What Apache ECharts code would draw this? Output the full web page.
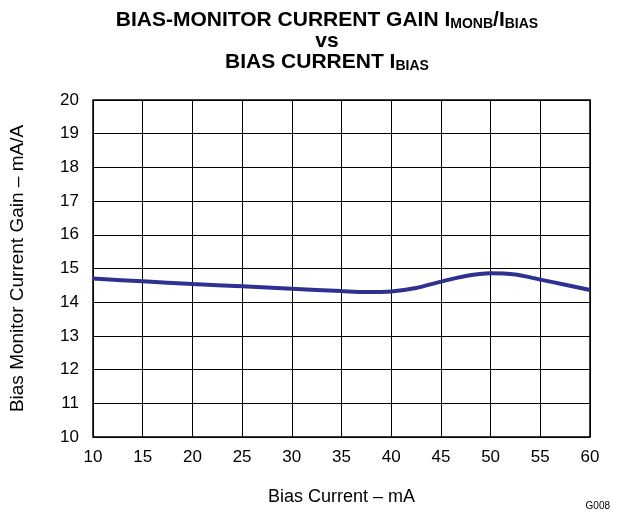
<!DOCTYPE html>
<html>
<head>
<meta charset="utf-8">
<script src="https://cdn.jsdelivr.net/npm/echarts@6/dist/echarts.min.js"></script>
<style>html,body{margin:0;padding:0;background:#fff;}#c{width:629px;height:512px;}</style>
</head>
<body>
<div id="c"></div>
<script>
var biasCurrent = [10, 15, 20, 25, 30, 35, 37.5, 40, 42.5, 45, 47.5, 50, 52.5, 55, 57.5, 60];
var gain = [14.70, 14.62, 14.54, 14.47, 14.40, 14.33, 14.30, 14.32, 14.42, 14.61, 14.78, 14.86, 14.82, 14.67, 14.52, 14.36];
var xTicks = [10, 15, 20, 25, 30, 35, 40, 45, 50, 55, 60];
var yTicks = [10, 11, 12, 13, 14, 15, 16, 17, 18, 19, 20];

var FONT = 'Liberation Sans, Arial, sans-serif';
var chart = echarts.init(document.getElementById('c'));
chart.setOption({
  animation: false,
  backgroundColor: '#fff',
  title: {
    text: '{m|BIAS-MONITOR CURRENT GAIN I}{s|MONB}{m|/I}{s|BIAS}\n{m|vs}\n{m|BIAS CURRENT I}{s|BIAS}',
    left: 322,
    top: 5,
    textAlign: 'center',
    textStyle: {
      fontFamily: FONT,
      fontWeight: 'bold',
      fontSize: 21,
      color: '#000',
      rich: {
        m: { fontFamily: FONT, fontWeight: 'bold', fontSize: 21, lineHeight: 21, color: '#000' },
        s: { fontFamily: FONT, fontWeight: 'bold', fontSize: 14, lineHeight: 11, verticalAlign: 'bottom', color: '#000' }
      }
    }
  },
  grid: { left: 93, right: 39, top: 100, bottom: 75, show: true, borderColor: '#000', borderWidth: 1.5, backgroundColor: 'transparent' },
  xAxis: {
    type: 'value', min: 10, max: 60, interval: 5,
    name: 'Bias Current \u2013 mA', nameLocation: 'middle', nameGap: 51,
    nameTextStyle: { fontFamily: FONT, fontSize: 18, color: '#000' },
    axisLine: { show: false }, axisTick: { show: false },
    axisLabel: { fontFamily: FONT, fontSize: 17, color: '#000', margin: 12 },
    splitLine: { show: true, lineStyle: { color: '#000', width: 1 } }
  },
  yAxis: {
    type: 'value', min: 10, max: 20, interval: 1,
    name: 'Bias Monitor Current Gain \u2013 mA/A', nameLocation: 'middle', nameGap: 66,
    nameTextStyle: { fontFamily: FONT, fontSize: 19, color: '#000' },
    axisLine: { show: false }, axisTick: { show: false },
    axisLabel: { fontFamily: FONT, fontSize: 17, color: '#000', margin: 14 },
    splitLine: { show: true, lineStyle: { color: '#000', width: 1 } }
  },
  graphic: [{
    type: 'text', right: 19, top: 501,
    style: { text: 'G008', font: '10px ' + FONT, fill: '#000' }
  }],
  series: [{
    type: 'line',
    data: biasCurrent.map(function (x, i) { return [x, gain[i]]; }),
    smooth: 0.3,
    showSymbol: false,
    lineStyle: { color: '#2e3192', width: 4 }
  }]
});
</script>
</body>
</html>
